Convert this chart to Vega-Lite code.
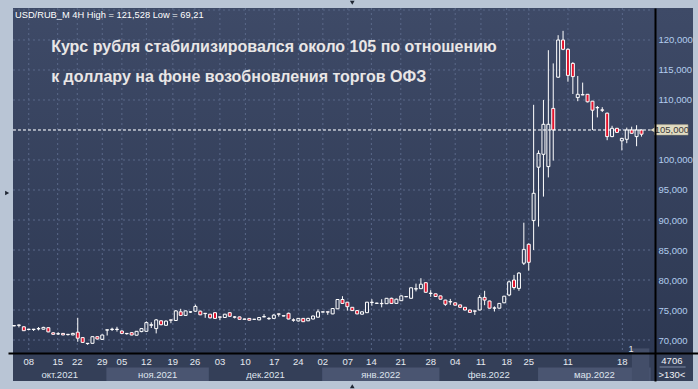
{
  "$schema": "https://vega.github.io/schema/vega-lite/v6.json",
  "width": 690,
  "height": 373,
  "autosize": {"type": "none"},
  "padding": {"left": 8, "top": 8, "right": 0, "bottom": 8},
  "background": "#b9c5d5",
  "config": {"view": {"stroke": null}, "font": "Liberation Sans"},
  "datasets": {
    "candles": [
      {"i":0,"o":72.35,"h":72.45,"l":72.3,"c":72.4},
      {"i":1,"o":72.45,"h":72.55,"l":72.1,"c":72.5},
      {"i":2,"o":72.2,"h":72.3,"l":71.5,"c":71.55},
      {"i":3,"o":71.75,"h":71.85,"l":71.6,"c":71.8},
      {"i":4,"o":71.8,"h":71.85,"l":71.5,"c":71.75},
      {"i":5,"o":71.85,"h":72.15,"l":71.6,"c":71.9},
      {"i":6,"o":71.8,"h":72.2,"l":71.75,"c":72.1},
      {"i":7,"o":72.05,"h":72.15,"l":71.3,"c":71.35},
      {"i":8,"o":71.2,"h":71.3,"l":70.9,"c":70.95},
      {"i":9,"o":71.0,"h":71.3,"l":70.85,"c":71.05},
      {"i":10,"o":71.1,"h":71.15,"l":70.8,"c":70.85},
      {"i":11,"o":70.95,"h":71.0,"l":70.75,"c":70.9},
      {"i":12,"o":70.85,"h":71.2,"l":70.8,"c":71.1},
      {"i":13,"o":71.3,"h":73.7,"l":69.7,"c":70.3},
      {"i":14,"o":70.4,"h":70.45,"l":69.5,"c":69.6},
      {"i":15,"o":69.45,"h":69.5,"l":69.21,"c":69.4},
      {"i":16,"o":69.45,"h":70.6,"l":69.4,"c":70.55},
      {"i":17,"o":70.55,"h":70.6,"l":70.1,"c":70.17},
      {"i":18,"o":70.1,"h":70.9,"l":70.0,"c":70.83},
      {"i":19,"o":71.65,"h":71.75,"l":70.75,"c":71.7},
      {"i":20,"o":71.75,"h":72.05,"l":71.5,"c":71.8},
      {"i":21,"o":71.8,"h":72.2,"l":71.4,"c":71.75},
      {"i":22,"o":71.5,"h":71.6,"l":71.05,"c":71.1},
      {"i":23,"o":71.1,"h":71.15,"l":70.9,"c":71.05},
      {"i":24,"o":71.22,"h":71.3,"l":70.8,"c":70.83},
      {"i":25,"o":70.8,"h":71.5,"l":70.75,"c":71.45},
      {"i":26,"o":71.4,"h":72.0,"l":71.3,"c":71.9},
      {"i":27,"o":71.45,"h":73.1,"l":71.35,"c":72.9},
      {"i":28,"o":72.45,"h":72.95,"l":72.0,"c":72.55},
      {"i":29,"o":71.9,"h":73.5,"l":71.1,"c":73.35},
      {"i":30,"o":73.2,"h":73.3,"l":72.45,"c":72.55},
      {"i":31,"o":72.45,"h":73.25,"l":72.4,"c":73.15},
      {"i":32,"o":73.35,"h":73.4,"l":72.8,"c":73.3},
      {"i":33,"o":73.25,"h":75.0,"l":73.2,"c":74.85},
      {"i":34,"o":74.7,"h":75.2,"l":74.0,"c":74.1},
      {"i":35,"o":74.1,"h":74.9,"l":74.0,"c":74.85},
      {"i":36,"o":74.65,"h":74.8,"l":74.5,"c":74.7},
      {"i":37,"o":74.8,"h":75.9,"l":74.7,"c":75.6},
      {"i":38,"o":74.8,"h":74.9,"l":74.15,"c":74.2},
      {"i":39,"o":74.45,"h":74.5,"l":73.7,"c":74.4},
      {"i":40,"o":74.3,"h":74.35,"l":73.6,"c":73.7},
      {"i":41,"o":74.55,"h":74.6,"l":73.55,"c":73.6},
      {"i":42,"o":73.85,"h":73.9,"l":73.3,"c":73.8},
      {"i":43,"o":73.75,"h":74.35,"l":73.7,"c":74.3},
      {"i":44,"o":74.55,"h":74.6,"l":73.9,"c":73.95},
      {"i":45,"o":73.85,"h":74.0,"l":73.6,"c":73.8},
      {"i":46,"o":73.85,"h":73.9,"l":73.4,"c":73.45},
      {"i":47,"o":73.5,"h":73.55,"l":73.4,"c":73.45},
      {"i":48,"o":73.6,"h":73.65,"l":73.25,"c":73.3},
      {"i":49,"o":73.45,"h":73.5,"l":73.35,"c":73.45},
      {"i":50,"o":73.35,"h":73.8,"l":73.3,"c":73.75},
      {"i":51,"o":73.85,"h":74.3,"l":73.8,"c":73.9},
      {"i":52,"o":73.6,"h":73.8,"l":73.35,"c":73.55},
      {"i":53,"o":73.6,"h":74.3,"l":73.55,"c":74.15},
      {"i":54,"o":74.35,"h":74.4,"l":73.9,"c":74.3},
      {"i":55,"o":74.0,"h":74.1,"l":73.95,"c":74.05},
      {"i":56,"o":74.45,"h":74.55,"l":73.45,"c":73.5},
      {"i":57,"o":73.35,"h":73.6,"l":73.05,"c":73.3},
      {"i":58,"o":73.17,"h":73.65,"l":73.1,"c":73.6},
      {"i":59,"o":73.6,"h":73.65,"l":73.0,"c":73.05},
      {"i":60,"o":73.2,"h":73.7,"l":73.15,"c":73.6},
      {"i":61,"o":73.5,"h":74.05,"l":73.45,"c":74.0},
      {"i":62,"o":73.8,"h":75.1,"l":73.75,"c":74.7},
      {"i":63,"o":74.65,"h":74.75,"l":74.6,"c":74.7},
      {"i":64,"o":74.7,"h":74.75,"l":74.2,"c":74.65},
      {"i":65,"o":74.35,"h":75.3,"l":74.3,"c":75.25},
      {"i":66,"o":75.2,"h":76.8,"l":75.15,"c":76.75},
      {"i":67,"o":76.75,"h":77.3,"l":76.0,"c":76.1},
      {"i":68,"o":76.3,"h":76.35,"l":74.9,"c":75.55},
      {"i":69,"o":75.45,"h":75.5,"l":74.85,"c":74.9},
      {"i":70,"o":74.9,"h":74.95,"l":74.3,"c":74.35},
      {"i":71,"o":74.3,"h":74.75,"l":74.25,"c":74.7},
      {"i":72,"o":74.55,"h":76.35,"l":74.5,"c":76.3},
      {"i":73,"o":76.25,"h":76.8,"l":75.7,"c":76.3},
      {"i":74,"o":76.1,"h":76.2,"l":76.05,"c":76.15},
      {"i":75,"o":76.1,"h":76.8,"l":75.45,"c":76.05},
      {"i":76,"o":76.05,"h":77.0,"l":76.0,"c":76.95},
      {"i":77,"o":76.95,"h":77.05,"l":76.0,"c":76.1},
      {"i":78,"o":76.1,"h":76.9,"l":76.05,"c":76.8},
      {"i":79,"o":76.55,"h":77.45,"l":76.5,"c":77.35},
      {"i":80,"o":77.2,"h":77.3,"l":77.15,"c":77.25},
      {"i":81,"o":76.95,"h":78.75,"l":76.9,"c":78.7},
      {"i":82,"o":78.5,"h":79.4,"l":78.1,"c":78.55},
      {"i":83,"o":78.55,"h":80.3,"l":78.5,"c":79.3},
      {"i":84,"o":79.55,"h":79.6,"l":77.9,"c":77.95},
      {"i":85,"o":77.8,"h":78.3,"l":77.2,"c":77.75},
      {"i":86,"o":77.7,"h":77.75,"l":77.2,"c":77.25},
      {"i":87,"o":77.35,"h":77.4,"l":76.75,"c":76.8},
      {"i":88,"o":76.65,"h":76.7,"l":75.7,"c":75.95},
      {"i":89,"o":76.4,"h":76.85,"l":75.85,"c":76.35},
      {"i":90,"o":76.2,"h":76.25,"l":75.75,"c":75.8},
      {"i":91,"o":75.85,"h":75.9,"l":75.4,"c":75.45},
      {"i":92,"o":75.45,"h":75.5,"l":74.95,"c":75.0},
      {"i":93,"o":75.0,"h":75.05,"l":74.55,"c":74.6},
      {"i":94,"o":74.85,"h":74.9,"l":74.17,"c":74.8},
      {"i":95,"o":75.0,"h":77.5,"l":74.95,"c":77.1},
      {"i":96,"o":77.1,"h":78.2,"l":75.8,"c":76.65},
      {"i":97,"o":76.5,"h":76.55,"l":75.25,"c":75.3},
      {"i":98,"o":75.3,"h":75.6,"l":74.75,"c":75.35},
      {"i":99,"o":75.3,"h":76.15,"l":75.25,"c":76.1},
      {"i":100,"o":76.2,"h":77.35,"l":76.15,"c":77.3},
      {"i":101,"o":77.5,"h":79.9,"l":77.3,"c":79.7},
      {"i":102,"o":80.0,"h":80.85,"l":78.4,"c":78.75},
      {"i":103,"o":78.6,"h":81.3,"l":78.2,"c":81.15},
      {"i":104,"o":82.8,"h":89.55,"l":82.5,"c":85.1},
      {"i":105,"o":85.95,"h":86.1,"l":81.55,"c":82.95},
      {"i":106,"o":89.9,"h":109.2,"l":85.0,"c":94.45},
      {"i":107,"o":98.8,"h":101.6,"l":88.9,"c":101.1},
      {"i":108,"o":100.95,"h":110.0,"l":93.9,"c":105.95},
      {"i":109,"o":98.9,"h":118.3,"l":97.1,"c":105.95},
      {"i":110,"o":108.6,"h":116.1,"l":99.9,"c":105.0},
      {"i":111,"o":113.8,"h":120.8,"l":113.7,"c":120.0},
      {"i":112,"o":120.0,"h":121.528,"l":118.3,"c":118.45},
      {"i":113,"o":118.45,"h":118.6,"l":113.05,"c":114.1},
      {"i":114,"o":116.1,"h":116.3,"l":111.0,"c":113.9},
      {"i":115,"o":110.4,"h":114.0,"l":109.8,"c":110.95},
      {"i":116,"o":110.9,"h":112.9,"l":110.8,"c":110.85},
      {"i":117,"o":110.95,"h":111.0,"l":109.6,"c":109.7},
      {"i":118,"o":109.8,"h":109.85,"l":105.0,"c":108.3},
      {"i":119,"o":108.75,"h":109.0,"l":107.1,"c":108.7},
      {"i":120,"o":108.35,"h":108.8,"l":108.0,"c":108.3},
      {"i":121,"o":107.8,"h":107.9,"l":103.3,"c":103.9},
      {"i":122,"o":103.9,"h":105.7,"l":103.8,"c":105.28},
      {"i":123,"o":105.28,"h":105.35,"l":104.5,"c":104.6},
      {"i":124,"o":103.2,"h":103.7,"l":101.6,"c":103.6},
      {"i":125,"o":103.45,"h":105.4,"l":102.8,"c":105.0},
      {"i":126,"o":105.0,"h":105.55,"l":104.4,"c":104.45},
      {"i":127,"o":103.9,"h":105.8,"l":102.3,"c":105.0},
      {"i":128,"o":105.0,"h":105.1,"l":103.9,"c":104.3}
    ],
    "ticks": [
      {"i":3,"d":"08"},{"i":8.9,"d":"15"},{"i":12.9,"d":"22"},{"i":18,"d":"29"},
      {"i":22,"d":"05"},{"i":27,"d":"12"},{"i":32.4,"d":"19"},{"i":36.9,"d":"26"},
      {"i":42,"d":"03"},{"i":47.2,"d":"10"},{"i":53.1,"d":"17"},{"i":58,"d":"24"},
      {"i":63,"d":"02"},{"i":68.1,"d":"07"},{"i":72.9,"d":"14"},{"i":78.9,"d":"21"},
      {"i":85,"d":"28"},{"i":90,"d":"04"},{"i":95.25,"d":"11"},{"i":100.5,"d":"18"},
      {"i":105,"d":"25"},{"i":113,"d":"11"},{"i":124.1,"d":"18"}
    ],
    "months": [
      {"m":"окт.2021","s":-0.211,"e":18.84,"k":0},
      {"m":"ноя.2021","s":18.84,"e":39.74,"k":1},
      {"m":"дек.2021","s":39.74,"e":62.86,"k":2},
      {"m":"янв.2022","s":62.86,"e":86.78,"k":3},
      {"m":"фев.2022","s":86.78,"e":106.9,"k":4},
      {"m":"мар.2022","s":106.9,"e":129.87,"k":5}
    ],
    "levels": [{"v":70},{"v":75},{"v":80},{"v":85},{"v":90},{"v":95},{"v":100},{"v":105},{"v":110},{"v":115},{"v":120},{"v":125}]
  },
  "layer": [
    {
      "data": {"values": [{}]},
      "mark": {"type": "rect", "fill": {"gradient": "linear", "x1": 0, "y1": 0, "x2": 0, "y2": 1, "stops": [{"offset": 0, "color": "#3e4a67"}, {"offset": 1, "color": "#2c3751"}]}},
      "encoding": {
        "x": {"datum": -0.211, "type": "quantitative", "scale": {"domain": [-0.211, 138.51], "nice": false, "zero": false},
              "axis": {"orient": "bottom", "offset": -28, "labels": false, "ticks": false, "grid": false, "title": null, "domainColor": "#000000", "domainWidth": 2, "zindex": 2}},
        "x2": {"datum": 138.51},
        "y": {"datum": 125.333, "type": "quantitative", "scale": {"domain": [63.167, 125.333], "nice": false, "zero": false},
              "axis": {"orient": "right", "offset": -43, "values": [70, 75, 80, 85, 90, 95, 100, 110, 115, 120], "labelExpr": "replace(format(datum.value, '.3f'), '.', ',')", "ticks": false, "grid": false, "title": null, "domainColor": "#000000", "domainWidth": 2, "labelColor": "#b3cdee", "labelFont": "Liberation Sans", "labelFontSize": 9.5, "labelPadding": 3, "labelAlign": "left", "labelBaseline": "middle", "zindex": 2}},
        "y2": {"datum": 63.167}
      }
    },
    {
      "data": {"values": [{}]},
      "mark": {"type": "rect", "fill": "#343f58"},
      "encoding": {
        "x": {"datum": -0.211, "type": "quantitative"},
        "x2": {"datum": 138.51},
        "y": {"datum": 67.833, "type": "quantitative"},
        "y2": {"datum": 63.167}
      }
    },
    {
      "data": {"name": "months"},
      "transform": [{"filter": "datum.k % 2 == 1"}],
      "mark": {"type": "rect", "fill": "#4a5571"},
      "encoding": {
        "x": {"field": "s", "type": "quantitative"},
        "x2": {"field": "e"},
        "y": {"datum": 65.4, "type": "quantitative"},
        "y2": {"datum": 63.167}
      }
    },
    {
      "data": {"name": "levels"},
      "mark": {"type": "rule", "stroke": "#5a6889", "strokeDash": [2, 3], "strokeWidth": 1},
      "encoding": {
        "y": {"field": "v", "type": "quantitative"},
        "x": {"datum": -0.211, "type": "quantitative"},
        "x2": {"datum": 129.87}
      }
    },
    {
      "data": {"name": "ticks"},
      "mark": {"type": "rule", "stroke": "#5a6889", "strokeDash": [2, 3], "strokeWidth": 1},
      "encoding": {
        "x": {"field": "i", "type": "quantitative"},
        "y": {"datum": 125.333, "type": "quantitative"},
        "y2": {"datum": 67.833}
      }
    },
    {
      "data": {"name": "candles"},
      "transform": [
        {"calculate": "max(datum.o, datum.c)", "as": "top"},
        {"calculate": "min(datum.o, datum.c)", "as": "bot"}
      ],
      "layer": [
        {
          "mark": {"type": "rule", "stroke": "#ffffff", "strokeWidth": 1},
          "encoding": {
            "x": {"field": "i", "type": "quantitative"},
            "y": {"field": "h", "type": "quantitative"},
            "y2": {"field": "top"}
          }
        },
        {
          "mark": {"type": "rule", "stroke": "#ffffff", "strokeWidth": 1},
          "encoding": {
            "x": {"field": "i", "type": "quantitative"},
            "y": {"field": "bot", "type": "quantitative"},
            "y2": {"field": "l"}
          }
        },
        {
          "mark": {"type": "bar", "size": 3, "stroke": "#ffffff", "strokeWidth": 1},
          "encoding": {
            "x": {"field": "i", "type": "quantitative"},
            "y": {"field": "o", "type": "quantitative"},
            "y2": {"field": "c"},
            "fill": {"condition": {"test": "datum.c < datum.o", "value": "#e3132c"}, "value": "transparent"}
          }
        }
      ]
    },
    {
      "data": {"values": [{}]},
      "mark": {"type": "rule", "stroke": "#ffffff", "strokeDash": [3, 2], "strokeWidth": 1},
      "encoding": {
        "y": {"datum": 105, "type": "quantitative"},
        "x": {"datum": -0.211, "type": "quantitative"},
        "x2": {"datum": 129.87}
      }
    },
    {
      "data": {"values": [{}]},
      "mark": {"type": "rect", "fill": "#e2dcc2", "stroke": "#9c9682", "strokeWidth": 0.5},
      "encoding": {
        "x": {"datum": 130.67, "type": "quantitative"},
        "x2": {"datum": 137.5},
        "y": {"datum": 105.9, "type": "quantitative"},
        "y2": {"datum": 104.15}
      }
    },
    {
      "data": {"values": [{}]},
      "mark": {"type": "point", "shape": "triangle-left", "filled": true, "fill": "#e2dcc2", "opacity": 1, "size": 40},
      "encoding": {
        "x": {"datum": 130.4, "type": "quantitative"},
        "y": {"datum": 105.02, "type": "quantitative"}
      }
    },
    {
      "data": {"values": [{"t": "105,000"}]},
      "mark": {"type": "text", "font": "Liberation Sans", "fontSize": 9.5, "color": "#3a3a3a", "align": "center", "baseline": "middle"},
      "encoding": {
        "x": {"datum": 134.2, "type": "quantitative"},
        "y": {"datum": 105.0, "type": "quantitative"},
        "text": {"field": "t"}
      }
    },
    {
      "data": {"name": "ticks"},
      "mark": {"type": "text", "font": "Liberation Sans", "fontSize": 9.5, "color": "#e6eaf0", "align": "center", "baseline": "middle"},
      "encoding": {
        "x": {"field": "i", "type": "quantitative"},
        "y": {"datum": 66.35, "type": "quantitative"},
        "text": {"field": "d"}
      }
    },
    {
      "data": {"name": "months"},
      "transform": [{"calculate": "(datum.s + datum.e) / 2", "as": "mid"}],
      "mark": {"type": "text", "font": "Liberation Sans", "fontSize": 9.5, "color": "#dfe4ee", "align": "center", "baseline": "middle"},
      "encoding": {
        "x": {"field": "mid", "type": "quantitative"},
        "y": {"datum": 64.25, "type": "quantitative"},
        "text": {"field": "m"}
      }
    },
    {
      "data": {"values": [{}]},
      "mark": {"type": "rect", "fill": "#434e69"},
      "encoding": {
        "x": {"datum": 126.05, "type": "quantitative"},
        "x2": {"datum": 129.6},
        "y": {"datum": 68.6, "type": "quantitative"},
        "y2": {"datum": 63.167}
      }
    },
    {
      "data": {"values": [{"t": "1"}]},
      "mark": {"type": "text", "font": "Liberation Sans", "fontSize": 9, "color": "#e6eaf0", "align": "center", "baseline": "middle"},
      "encoding": {
        "x": {"datum": 125.85, "type": "quantitative"},
        "y": {"datum": 68.5, "type": "quantitative"},
        "text": {"field": "t"}
      }
    },
    {
      "data": {"values": [{"t": "4706"}]},
      "mark": {"type": "text", "font": "Liberation Sans", "fontSize": 9.5, "color": "#f0f2f6", "align": "center", "baseline": "middle"},
      "encoding": {
        "x": {"datum": 134.2, "type": "quantitative"},
        "y": {"datum": 66.5, "type": "quantitative"},
        "text": {"field": "t"}
      }
    },
    {
      "data": {"values": [{}]},
      "mark": {"type": "rule", "stroke": "#7f8ba3", "strokeWidth": 1},
      "encoding": {
        "y": {"datum": 65.5, "type": "quantitative"},
        "x": {"datum": 131.7, "type": "quantitative"},
        "x2": {"datum": 137.0}
      }
    },
    {
      "data": {"values": [{"t": ">130<"}]},
      "mark": {"type": "text", "font": "Liberation Sans", "fontSize": 9.5, "color": "#f0f2f6", "align": "center", "baseline": "middle"},
      "encoding": {
        "x": {"datum": 134.2, "type": "quantitative"},
        "y": {"datum": 64.25, "type": "quantitative"},
        "text": {"field": "t"}
      }
    },
    {
      "data": {"values": [{"t": "USD/RUB_M 4H High = 121,528 Low = 69,21"}]},
      "mark": {"type": "text", "font": "Liberation Sans", "fontSize": 9.3, "color": "#ffffff", "align": "left", "baseline": "alphabetic"},
      "encoding": {
        "x": {"datum": 0.19, "type": "quantitative"},
        "y": {"datum": 123.62, "type": "quantitative"},
        "text": {"field": "t"}
      }
    },
    {
      "data": {"values": [{"t": "Курс рубля стабилизировался около 105 по отношению"}]},
      "mark": {"type": "text", "font": "Liberation Sans", "fontSize": 16, "fontWeight": "bold", "color": "#e9e6e6", "align": "left", "baseline": "alphabetic"},
      "encoding": {
        "x": {"datum": 7.57, "type": "quantitative"},
        "y": {"datum": 118.05, "type": "quantitative"},
        "text": {"field": "t"}
      }
    },
    {
      "data": {"values": [{"t": "к доллару на фоне возобновления торгов ОФЗ"}]},
      "mark": {"type": "text", "font": "Liberation Sans", "fontSize": 16, "fontWeight": "bold", "color": "#e9e6e6", "align": "left", "baseline": "alphabetic"},
      "encoding": {
        "x": {"datum": 7.57, "type": "quantitative"},
        "y": {"datum": 113.05, "type": "quantitative"},
        "text": {"field": "t"}
      }
    },
    {
      "data": {"values": [{}]},
      "mark": {"type": "point", "shape": "triangle-down", "filled": true, "fill": "#1f2633", "opacity": 1, "size": 22},
      "encoding": {
        "x": {"datum": 69.0, "type": "quantitative"},
        "y": {"datum": 126.2, "type": "quantitative"}
      }
    },
    {
      "data": {"values": [{}]},
      "mark": {"type": "point", "shape": "triangle-up", "filled": true, "fill": "#1f2633", "opacity": 1, "size": 22},
      "encoding": {
        "x": {"datum": 69.0, "type": "quantitative"},
        "y": {"datum": 62.3, "type": "quantitative"}
      }
    },
    {
      "data": {"values": [{}]},
      "mark": {"type": "point", "shape": "triangle-right", "filled": true, "fill": "#1f2633", "opacity": 1, "size": 22},
      "encoding": {
        "x": {"datum": -1.4, "type": "quantitative"},
        "y": {"datum": 94.5, "type": "quantitative"}
      }
    }
  ]
}
